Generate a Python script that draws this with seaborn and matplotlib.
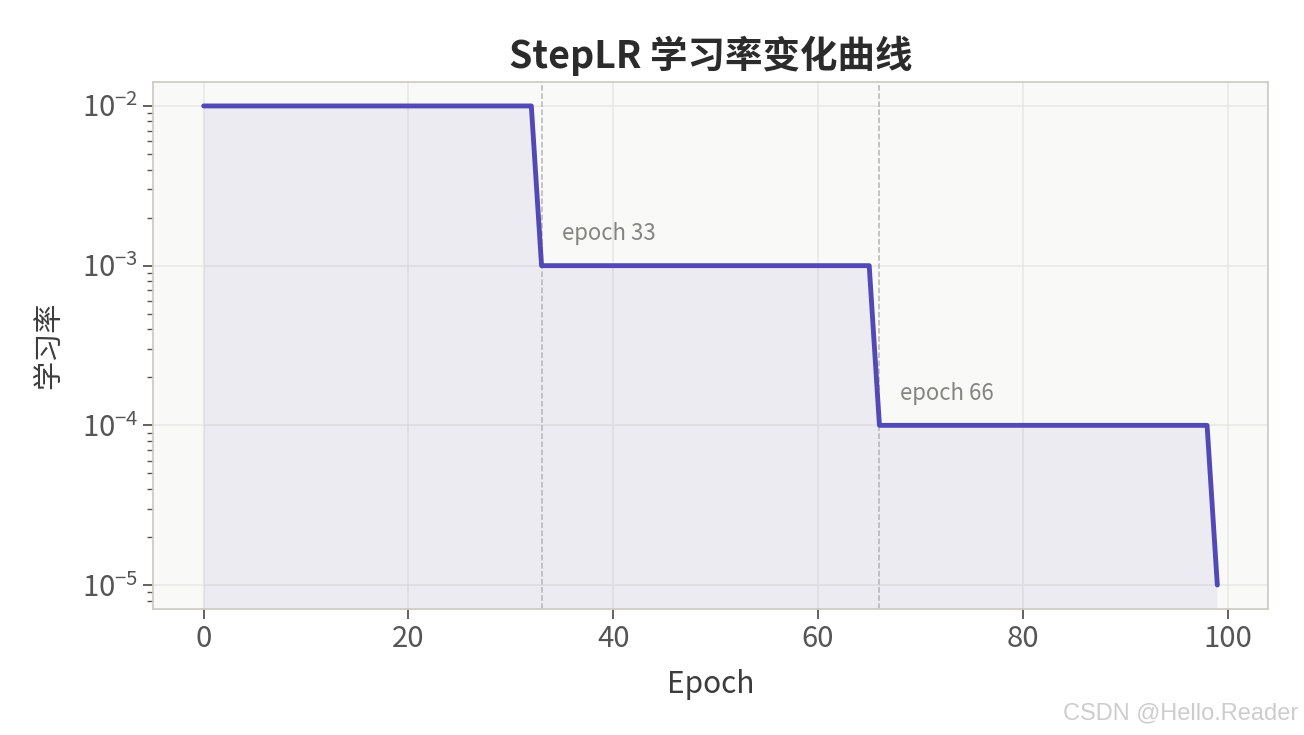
import matplotlib
matplotlib.use("Agg")
import matplotlib.pyplot as plt
import seaborn as sns
import numpy as np
import pandas as pd

# ---- data ----
epochs = list(range(100))
lr_values = [1e-2] * 33 + [1e-3] * 33 + [1e-4] * 33 + [1e-5] * 1
step_epochs = [33, 66]
step_labels = ["epoch 33", "epoch 66"]
label_lr = [1.58e-3, 1.58e-4]
title = "StepLR 学习率变化曲线"
xlabel = "Epoch"
ylabel = "学习率"

df = pd.DataFrame({"epoch": epochs, "lr": lr_values})

sns.set_theme(style="whitegrid")
plt.rcParams["font.family"] = ["Noto Sans CJK SC", "DejaVu Sans"]
plt.rcParams["axes.unicode_minus"] = False

DPI = 100
fig = plt.figure(figsize=(13.04, 7.35), dpi=DPI)
ax = fig.add_axes([153 / 1304, 1 - 609 / 735, (1268 - 153) / 1304, (609 - 82) / 735])

line_color = "#5249b6"
ax.set_facecolor("#f9f9f7")
ax.set_yscale("log")

ax.fill_between(df["epoch"], df["lr"], 1e-7, color=line_color, alpha=0.08, linewidth=0, zorder=1)
sns.lineplot(data=df, x="epoch", y="lr", ax=ax, color=line_color, linewidth=3.5, zorder=3)

for e, t, yv in zip(step_epochs, step_labels, label_lr):
    ax.axvline(e, color="#b5b5b5", linestyle="--", linewidth=1.1, zorder=2)
    ax.text(e + 2, yv, t, fontsize=16, color="#858580", va="center", ha="left", zorder=4)

ax.set_xlim(-4.95, 103.95)
ax.set_ylim(10 ** -5.15, 10 ** -1.85)
ax.set_xticks([0, 20, 40, 60, 80, 100])

ax.grid(True, which="major", color="#e8e8e3", linewidth=1.1)
ax.grid(False, which="minor")
for s in ax.spines.values():
    s.set_color("#d0cdc6")
    s.set_linewidth(1.3)

ax.tick_params(axis="both", which="major", length=7, width=1.3, color="#555555",
               labelsize=21, labelcolor="#555555", left=True, bottom=True, direction="out")
ax.tick_params(axis="y", which="minor", length=4, width=1.0, color="#555555", left=True)

ax.set_title(title, fontsize=27, fontweight="bold", color="#2b2b2b", pad=10)
ax.set_xlabel(xlabel, fontsize=21.5, color="#3c3c3c", labelpad=11)
ax.set_ylabel(ylabel, fontsize=21, color="#3c3c3c", labelpad=13)

fig.text(1298 / 1304, 1 - 713 / 735, "CSDN @Hello.Reader", fontsize=17, color="#cdcdcd",
         ha="right", va="center", family=["Liberation Sans", "DejaVu Sans"])

fig.savefig("out.png", dpi=DPI)
